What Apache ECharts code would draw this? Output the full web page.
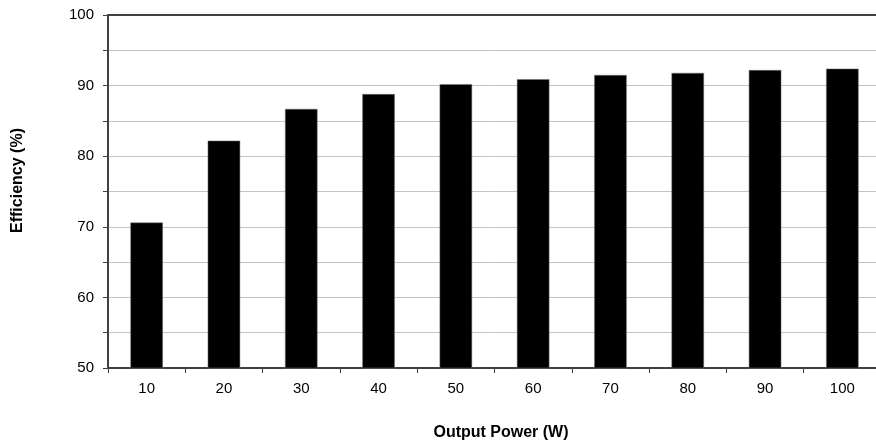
<!DOCTYPE html>
<html>
<head>
<meta charset="utf-8">
<script src="https://cdn.jsdelivr.net/npm/echarts@6/dist/echarts.min.js"></script>
<style>
html,body{margin:0;padding:0;background:#fff;}
#chart{width:876px;height:447px;}
</style>
</head>
<body>
<div id="chart"></div>
<script>
const categories = ['10','20','30','40','50','60','70','80','90','100'];
const efficiency = [70.6, 82.2, 86.7, 88.8, 90.2, 90.9, 91.5, 91.8, 92.2, 92.4];
const xTitle = 'Output Power (W)';
const yTitle = 'Efficiency (%)';

const chart = echarts.init(document.getElementById('chart'), null, {renderer:'canvas'});
const FONT = '"Liberation Sans", Arial, sans-serif';
chart.setOption({
  animation: false,
  backgroundColor: '#ffffff',
  grid: {left: 108, top: 15, width: 773, bottom: 79, containLabel: false, outerBoundsMode: 'none'},
  xAxis: [{
    type: 'category',
    data: categories,
    boundaryGap: true,
    name: xTitle,
    nameLocation: 'middle',
    nameGap: 57,
    nameTextStyle: {fontFamily: FONT, fontWeight: 'bold', fontSize: 16, color: '#000', padding: [0,0,0,13]},
    axisLine: {show: true, lineStyle: {color: '#404040', width: 2}},
    axisTick: {show: true, alignWithLabel: false, inside: false, length: 5, lineStyle: {color: '#404040', width: 1}},
    axisLabel: {fontFamily: FONT, fontSize: 15, color: '#000', margin: 13},
    splitLine: {show: false}
  },{
    type: 'category',
    data: categories,
    position: 'top',
    axisLine: {show: true, lineStyle: {color: '#404040', width: 2}},
    axisTick: {show: false},
    axisLabel: {show: false},
    splitLine: {show: false}
  }],
  yAxis: {
    type: 'value',
    min: 50, max: 100, interval: 5,
    name: yTitle,
    nameLocation: 'middle',
    nameRotate: 90,
    nameGap: 82,
    nameTextStyle: {fontFamily: FONT, fontWeight: 'bold', fontSize: 16, color: '#000', padding: [0,0,0,22]},
    axisLine: {show: true, lineStyle: {color: '#404040', width: 2}},
    axisTick: {show: true, inside: false, length: 5, lineStyle: {color: '#404040', width: 1}},
    axisLabel: {fontFamily: FONT, fontSize: 15, color: '#000', margin: 14,
      formatter: v => (v % 10 === 0 ? String(v) : '')},
    splitLine: {show: true, lineStyle: {color: '#c4c4c4', width: 1}}
  },
  series: [{
    type: 'bar',
    data: efficiency,
    barWidth: '42%',
    itemStyle: {color: '#000', borderColor: '#777', borderWidth: 0.5}
  }]
});
</script>
</body>
</html>
